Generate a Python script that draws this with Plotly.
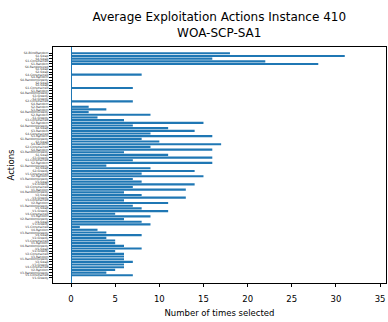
import plotly.graph_objects as go

ACTIONS = [
    "S4-BlindRandom", "S1-Swap", "S4-Swap", "S1-Constrained", "S1-Random",
    "S4-Randomized", "S1-Swap", "S2-Swap", "S4-Constrained", "S4-Random",
    "S4-RandomGreedy", "S2-Swap", "S3-Swap", "S1-Constrained", "S1-Random",
    "S4-RandomGreedy", "S3-Greedy", "S2-Greedy", "S2-Constrained", "S4-Random",
    "S2-Random", "S3-Random", "S4-RandomGreedy", "S2-Random", "S1-Greedy",
    "S3-Constrained", "S2-Random", "S4-RandomGreedy", "S4-Swap", "S3-Random",
    "S4-Constrained", "S3-Random", "S1-RandomGreedy", "S3-Swap", "S4-Random",
    "S2-Constrained", "S4-Random", "S3-RandomGreedy", "S1-Swap", "S3-Greedy",
    "S1-Constrained", "S2-Random", "S1-RandomGreedy", "S3-Swap", "S2-Greedy",
    "V1-Constrained", "V2-Random", "V3-RandomGreedy", "V3-Swap", "V4-Greedy",
    "V2-Constrained", "V1-Random", "V4-RandomGreedy", "V2-Swap", "V4-Greedy",
    "V3-Constrained", "V2-Random", "V1-RandomGreedy", "V1-Swap", "V1-Greedy",
    "V4-Constrained", "V3-Random", "V2-RandomGreedy", "V4-Swap", "V3-Greedy",
    "V1-Constrained", "V4-Random", "V3-RandomGreedy", "V4-Swap", "V2-Greedy",
    "V3-Constrained", "V1-Random", "V4-RandomGreedy", "V1-Swap", "V2-Greedy",
    "V2-Constrained", "V3-Random", "V1-RandomGreedy", "V2-Swap", "V3-Greedy",
    "V4-Constrained", "V2-Random", "V3-RandomGreedy", "V1-Constrained", "V1-Greedy",
]

TIMES_SELECTED = [
    18, 31, 16, 22, 28, 0, 0, 0, 8, 0,
    0, 0, 0, 7, 0, 0, 0, 0, 7, 0,
    2, 4, 2, 9, 3, 6, 15, 7, 11, 14,
    9, 16, 8, 10, 17, 9, 16, 6, 11, 16,
    7, 16, 4, 9, 14, 8, 15, 7, 8, 14,
    7, 13, 6, 8, 13, 6, 11, 7, 8, 11,
    5, 9, 6, 8, 9, 1, 3, 4, 8, 4,
    5, 5, 6, 8, 5, 6, 6, 6, 7, 6,
    6, 5, 4, 7, 0,
]

X_TICKS = [0, 5, 10, 15, 20, 25, 30, 35]

positions = list(range(len(ACTIONS)))
FONT = "DejaVu Sans"

fig = go.Figure(
    go.Bar(
        x=TIMES_SELECTED,
        y=positions,
        orientation="h",
        marker=dict(color="#1f77b4", line=dict(width=0)),
        width=0.8,
    )
)

fig.update_layout(
    width=388,
    height=322,
    margin=dict(l=53, r=2, t=47, b=39),
    paper_bgcolor="white",
    plot_bgcolor="white",
    showlegend=False,
    font=dict(family=FONT, color="black"),
    title=dict(
        text="Average Exploitation Actions Instance 410<br>WOA-SCP-SA1",
        x=0.565,
        xanchor="center",
        yref="container",
        y=0.935,
        yanchor="top",
        font=dict(family=FONT, size=12, color="black"),
    ),
)

fig.update_xaxes(
    range=[-2.04, 35.67],
    tickvals=X_TICKS,
    ticks="outside",
    ticklen=3,
    tickwidth=1,
    tickcolor="black",
    ticklabelstandoff=5,
    tickfont=dict(family=FONT, size=8.5, color="black"),
    showgrid=False,
    zeroline=True,
    zerolinecolor="#1f77b4",
    zerolinewidth=1,
    showline=True,
    linecolor="black",
    linewidth=1,
    mirror=True,
    automargin=False,
    title=dict(text="Number of times selected", font=dict(family=FONT, size=8.5, color="black"), standoff=6),
)

fig.update_yaxes(
    range=[85.9, -2.35],
    tickvals=positions,
    ticktext=ACTIONS,
    ticks="outside",
    ticklen=3,
    tickwidth=1,
    tickcolor="black",
    tickfont=dict(family=FONT, size=3, color="#333"),
    showgrid=False,
    zeroline=False,
    showline=True,
    linecolor="black",
    linewidth=1,
    mirror=True,
    automargin=False,
    title=dict(text="Actions", font=dict(family=FONT, size=8.5, color="black"), standoff=4),
)

fig.write_html("out.html")
